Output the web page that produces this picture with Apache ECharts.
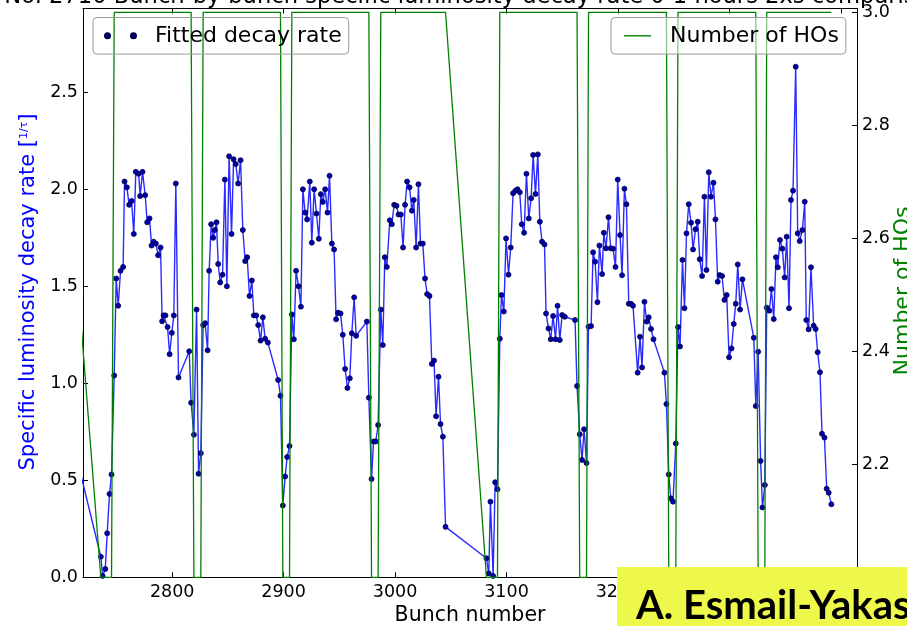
<!DOCTYPE html>
<html>
<head>
<meta charset="utf-8">
<script src="https://cdn.jsdelivr.net/npm/echarts@6/dist/echarts.min.js"></script>
<style>
html,body{margin:0;padding:0;background:#fff;}
#chart{width:907px;height:626px;}
</style>
</head>
<body>
<div id="chart"></div>
<script>
// Bunch numbers of the fitted bunches
const bunch = [
2696.4,2736.0,2737.6,2740.0,2741.7,2743.8,2745.6,2748.0,2749.8,2751.6,2753.7,2756.0,2757.3,2759.4,2761.4,2763.6,2765.6,2767.4,2769.9,2771.3,
2773.4,2775.8,2777.6,2779.7,2781.5,2783.3,2785.4,2787.4,2789.6,2791.0,2792.3,2794.0,2795.9,2797.7,2799.7,2801.5,2803.3,2805.7,2815.3,2817.0,
2819.5,2821.9,2823.7,2825.7,2827.8,2829.6,2831.8,2833.2,2835.0,2836.8,2838.3,2839.8,2841.3,2843.1,2845.2,2847.3,2849.1,2851.1,2853.3,2855.1,
2857.1,2859.2,2861.4,2863.4,2865.5,2867.3,2869.4,2871.5,2873.3,2875.4,2877.2,2879.3,2881.4,2883.4,2885.9,2895.1,2897.2,2899.3,2901.4,2903.2,
2905.3,2907.4,2909.2,2911.2,2913.4,2915.5,2917.3,2919.3,2921.1,2923.5,2925.3,2927.4,2929.5,2931.6,2933.4,2935.2,2937.3,2939.4,2941.2,2943.3,
2945.3,2947.1,2948.9,2951.1,2953.1,2955.2,2957.3,2959.4,2961.2,2963.3,2965.1,2974.7,2976.5,2978.9,2980.7,2982.7,2984.8,2987.2,2989.0,2990.8,
2992.6,2995.3,2997.1,2999.2,3001.3,3003.1,3005.2,3007.2,3009.0,3010.8,3013.0,3015.1,3016.8,3018.9,3021.0,3022.8,3024.9,3026.9,3028.8,3030.9,
3033.0,3035.0,3036.8,3039.0,3040.8,3042.9,3045.3,3082.0,3084.1,3085.6,3088.0,3089.8,3091.9,3094.0,3095.5,3097.6,3099.6,3101.8,3103.8,3105.9,
3108.0,3109.9,3111.9,3113.7,3115.8,3117.9,3120.0,3122.1,3123.9,3126.0,3128.1,3129.9,3131.9,3134.1,3135.5,3137.7,3139.7,3141.8,3144.0,3145.8,
3147.8,3149.9,3152.3,3161.5,3163.3,3165.7,3167.8,3169.6,3171.8,3173.6,3175.9,3177.7,3179.5,3181.6,3183.4,3185.8,3187.3,3189.3,3191.5,3193.5,
3195.6,3197.8,3199.8,3201.9,3203.7,3205.8,3207.6,3209.7,3211.7,3213.5,3217.7,3219.8,3221.6,3223.8,3225.8,3227.6,3229.7,3231.9,3241.7,3243.5,
3245.6,3247.4,3249.4,3251.9,3253.9,3255.7,3257.9,3259.7,3261.5,3263.5,3265.6,3267.4,3269.6,3271.6,3273.4,3275.5,3277.6,3279.4,3281.5,3283.5,
3285.7,3287.5,3289.5,3291.3,3293.4,3295.5,3297.6,3299.7,3301.9,3303.9,3305.7,3307.5,3309.6,3311.7,3321.9,3323.7,3325.8,3328.0,3329.7,3331.8,
3333.5,3335.9,3337.7,3339.8,3341.8,3343.4,3345.4,3347.5,3349.6,3351.4,3353.5,3355.3,3357.1,3359.5,3361.3,3363.1,3365.5,3367.6,3369.0,3371.1,
3373.2,3375.6,3377.4,3379.2,3381.3,3383.1,3385.3,3387.3,3389.1,3391.5
];
// Fitted specific luminosity decay rate per bunch
const decayRate = [
1.04,0.106,0.007,0.043,0.227,0.43,0.53,1.04,1.54,1.40,1.58,1.60,2.04,2.01,1.92,1.94,1.77,2.09,2.08,1.965,
2.09,1.97,1.83,1.85,1.71,1.73,1.72,1.66,1.70,1.32,1.35,1.35,1.29,1.15,1.26,1.35,2.03,1.03,1.165,0.90,
0.735,1.38,0.534,0.64,1.30,1.31,1.17,1.58,1.82,1.75,1.79,1.83,1.615,1.52,1.56,2.05,1.50,2.17,1.77,2.155,
2.13,2.03,2.15,1.79,1.63,1.65,1.45,1.53,1.35,1.35,1.30,1.22,1.34,1.23,1.21,1.017,0.936,0.37,0.52,0.62,
0.677,1.355,1.227,1.58,1.50,1.395,2.00,1.88,1.845,2.04,1.725,2.00,1.875,1.745,1.975,1.935,2.00,1.88,2.07,1.72,
1.69,1.33,1.364,1.36,1.25,1.074,0.976,1.026,1.258,1.443,1.245,1.318,0.926,0.507,0.70,0.70,0.785,1.38,1.197,1.65,
1.60,1.84,1.82,1.92,1.915,1.87,1.87,1.70,1.92,2.04,2.01,1.89,1.945,1.70,2.026,1.72,1.72,1.54,1.46,1.45,
1.10,1.117,0.83,1.034,0.79,0.725,0.26,0.098,0.02,0.39,0.007,0.49,0.454,1.23,1.455,1.37,1.747,1.56,1.70,1.98,
1.993,2.00,1.985,1.82,1.776,2.08,1.85,1.954,2.177,1.976,2.18,1.833,1.73,1.716,1.36,1.283,1.227,1.347,1.227,1.40,
1.223,1.352,1.343,1.326,0.986,0.737,0.605,0.763,0.589,1.292,1.295,1.675,1.627,1.418,1.71,1.563,1.776,1.696,1.856,1.696,
1.694,1.60,2.05,1.764,1.557,2.003,1.923,1.41,1.41,1.40,1.055,1.24,1.082,1.42,1.318,1.34,1.28,1.227,1.055,0.893,
0.53,0.407,0.39,0.69,1.29,1.19,1.636,1.387,1.773,1.923,1.828,1.69,1.794,1.833,1.64,1.553,1.962,1.584,2.088,1.962,
2.034,1.845,1.524,1.558,1.553,1.43,1.455,1.134,1.18,1.306,1.41,1.613,1.38,1.536,1.235,0.883,1.163,0.60,0.36,0.476,
1.39,1.374,1.486,1.331,1.65,1.598,1.739,1.694,1.546,1.756,1.387,1.945,1.993,2.632,1.773,1.733,1.79,1.936,1.326,1.278,
1.598,1.297,1.28,1.16,1.057,0.74,0.72,0.457,0.436,0.376
];
// Number of head-on collisions (bunches where the count changes)
const hoBunch = [2696.4,2736.0,2745.6,2748.0,2817.0,2819.5,2825.7,2827.8,2897.2,2899.3,2905.3,2907.4,2976.5,2978.9,2984.8,2987.2,
  3045.3,3082.0,3091.9,3094.0,3163.3,3165.7,3171.8,3173.6,3243.5,3245.6,3251.9,3253.9,3323.7,3325.8,3331.8,3333.5,3391.5];
const hoCount = [3,2,2,3,3,2,2,3,3,2,2,3,3,2,2,3,3,2,2,3,3,2,2,3,3,2,2,3,3,2,2,3,3];

const xTicks = [2800,2900,3000,3100,3200,3300,3400];
const leftTicks = [0,0.5,1.0,1.5,2.0,2.5];
const rightTicks = [2.0,2.2,2.4,2.6,2.8,3.0];

const FONT = 'DejaVu Sans';
const chart = echarts.init(document.getElementById('chart'), null, {renderer:'canvas'});

const axisLineStyle = {show:true, onZero:false, lineStyle:{color:'#000', width:1}};
const tickStyle = (vals) => ({show:true, inside:true, length:5, customValues:vals, lineStyle:{color:'#000', width:1}});
const labelStyle = (vals, margin) => ({show:true, customValues:vals, margin:margin, color:'#000', fontSize:17.5, fontFamily:FONT,
  formatter: v => (v % 1 === 0 && v > 100) ? String(v) : Number(v).toFixed(1)});

const option = {
  animation:false,
  backgroundColor:'#fff',
  grid:{left:83, right:50, top:8.5, bottom:48.7, containLabel:false},
  xAxis:[
    {type:'value', min:2720, max:3414.5, position:'bottom', axisLine:axisLineStyle, axisTick:tickStyle(xTicks),
     axisLabel:labelStyle(xTicks, 6), splitLine:{show:false}},
    {type:'value', min:2720, max:3414.5, position:'top', axisLine:axisLineStyle, axisTick:tickStyle(xTicks),
     axisLabel:{show:false}, splitLine:{show:false}}
  ],
  yAxis:[
    {type:'value', min:0, max:2.932, position:'left', axisLine:axisLineStyle, axisTick:tickStyle(leftTicks),
     axisLabel:labelStyle(leftTicks, 5), splitLine:{show:false}},
    {type:'value', min:2.0, max:3.0067, position:'right', axisLine:axisLineStyle, axisTick:tickStyle(rightTicks),
     axisLabel:labelStyle(rightTicks, 5), splitLine:{show:false}}
  ],
  legend:[
    {data:['Fitted decay rate'], left:93, top:17.5, orient:'horizontal', selectedMode:false,
     icon:'path://M0,2.5a2.5,2.5 0 1,0 5,0a2.5,2.5 0 1,0 -5,0M26,2.5a2.5,2.5 0 1,0 5,0a2.5,2.5 0 1,0 -5,0',
     itemWidth:31, itemHeight:5, padding:[7.3,7,7.3,11], borderColor:'#9a9a9a', borderWidth:1, borderRadius:4,
     backgroundColor:'rgba(255,255,255,0)', formatter: n => '  ' + n,
     textStyle:{fontSize:22, fontFamily:FONT, color:'#000'}},
    {data:['Number of HOs'], left:611, top:17.5, orient:'horizontal', selectedMode:false,
     icon:'rect', itemWidth:27, itemHeight:1.4, padding:[7.3,7,7.3,13], borderColor:'#9a9a9a', borderWidth:1, borderRadius:4,
     backgroundColor:'rgba(255,255,255,0.55)', formatter: n => '  ' + n,
     textStyle:{fontSize:22, fontFamily:FONT, color:'#000'}}
  ],
  series:[
    {type:'line', name:'Fitted decay rate', xAxisIndex:0, yAxisIndex:0,
     data: bunch.map((b,i) => [b, decayRate[i]]),
     symbol:'circle', symbolSize:5, showSymbol:true, clip:true,
     lineStyle:{color:'#2a2aff', width:1.4},
     itemStyle:{color:'#0000b0', borderColor:'#000040', borderWidth:0.8},
     emphasis:{disabled:true}, z:2},
    {type:'line', name:'Number of HOs', xAxisIndex:0, yAxisIndex:1,
     data: hoBunch.map((b,i) => [b, hoCount[i]]),
     symbol:'none', showSymbol:false, clip:true,
     lineStyle:{color:'#008000', width:1.3},
     itemStyle:{color:'#008000'},
     emphasis:{disabled:true}, z:3}
  ],
  graphic:[
    {type:'text', x:-33, y:-3.1, silent:true, z:50,
     style:{text:'Fill No. 2710 Bunch-by-bunch specific luminosity decay rate 0-1 hours 2xs comparison', font:'22.6px "DejaVu Sans"', fill:'#000', align:'left', verticalAlign:'middle'}},
    {type:'text', x:28.7, y:292, rotation:Math.PI/2, silent:true, z:50,
     style:{text:'{a|Specific luminosity decay rate [}{b|1/τ}{a|]}', align:'center', verticalAlign:'middle',
       rich:{a:{fontSize:21, fontFamily:FONT, fill:'#0000ff', color:'#0000ff'}, b:{fontSize:11, fontFamily:FONT, fill:'#0000ff', color:'#0000ff', verticalAlign:'top'}}}},
    {type:'text', x:903, y:291, rotation:Math.PI/2, silent:true, z:50,
     style:{text:'Number of HOs', font:'22px "DejaVu Sans"', fill:'#008000', align:'center', verticalAlign:'middle'}},
    {type:'text', x:470, y:616, silent:true, z:50,
     style:{text:'Bunch number', font:'20.5px "DejaVu Sans"', fill:'#000', align:'center', verticalAlign:'middle'}},
    {type:'rect', shape:{x:617, y:567, width:300, height:70}, silent:true, z:100, style:{fill:'#eef84a'}},
    {type:'text', x:636, y:606.5, silent:true, z:101,
     style:{text:'A. Esmail-Yakasai', font:'bold 40px Lato', fill:'#000', align:'left', verticalAlign:'middle'}}
  ]
};
chart.setOption(option);
</script>
</body>
</html>
